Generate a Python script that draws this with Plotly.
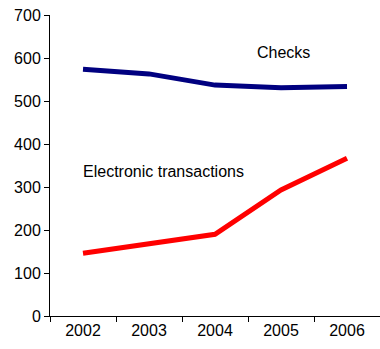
import plotly.graph_objects as go

years = ["2002", "2003", "2004", "2005", "2006"]
checks = [574, 563, 537, 531, 534]
electronic = [146, 168, 190, 293, 367]
y_ticks = [0, 100, 200, 300, 400, 500, 600, 700]

fig = go.Figure()
fig.add_trace(go.Scatter(x=years, y=checks, mode="lines",
                         line=dict(color="#000080", width=5), name="Checks"))
fig.add_trace(go.Scatter(x=years, y=electronic, mode="lines",
                         line=dict(color="#FF0000", width=5), name="Electronic transactions"))

fig.add_annotation(x=3.04, y=612, xref="x", yref="y", text="Checks", showarrow=False,
                   font=dict(size=16, color="black"), xanchor="center", yanchor="middle")
fig.add_annotation(x=-0.03, y=335, xref="x", yref="y", text="Electronic transactions", showarrow=False,
                   font=dict(size=16, color="black"), xanchor="left", yanchor="middle")

fig.update_layout(
    width=380, height=349,
    margin=dict(l=50, r=0, t=15, b=33, autoexpand=False),
    paper_bgcolor="white", plot_bgcolor="white",
    showlegend=False,
    font=dict(family="Liberation Sans, Arial, sans-serif", size=16, color="black"),
    xaxis=dict(type="category", range=[-0.5, 4.5], tickson="boundaries",
               ticks="outside", ticklen=5, tickcolor="black", showline=True,
               linecolor="black", linewidth=1, showgrid=False, zeroline=False,
               tickfont=dict(size=16), automargin=False),
    yaxis=dict(range=[0, 700], tickvals=y_ticks, ticks="outside", ticklen=5,
               tickcolor="black", showline=True, linecolor="black", linewidth=1,
               showgrid=False, zeroline=False, tickfont=dict(size=16), automargin=False),
)

fig.write_html("out.html", config={"displayModeBar": False},
               post_script="document.body.style.margin='0';document.body.style.padding='0';")
